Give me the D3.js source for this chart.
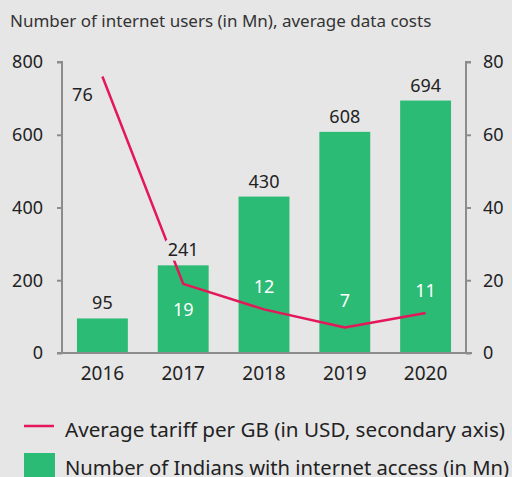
<!DOCTYPE html>
<html><head><meta charset="utf-8">
<script src="https://cdn.jsdelivr.net/npm/d3@7"></script>
<style>
html,body{margin:0;padding:0;background:#e6e6e6;}
svg{display:block;font-family:"Noto Sans",sans-serif;}
</style></head>
<body><svg id="c" width="512" height="477"></svg>
<script>
const years = ["2016","2017","2018","2019","2020"];
const users = [95, 241, 430, 608, 694];
const tariff = [76, 19, 12, 7, 11];
const leftTicks = [0, 200, 400, 600, 800];
const rightTicks = [0, 20, 40, 60, 80];
const title = "Number of internet users (in Mn), average data costs";
const legendLine = "Average tariff per GB (in USD, secondary axis)";
const legendBar = "Number of Indians with internet access (in Mn)";

const bg = "#e6e6e6", green = "#2bbb74", red = "#e4175a", axisCol = "#8c8c8c", txt = "#222";
const svg = d3.select("#c");
svg.append("rect").attr("width",512).attr("height",477).attr("fill",bg);

const L = 62, R = 466, T = 62, B = 353;
const x = d3.scaleBand().domain(years).range([L, R]).paddingInner(0.37).paddingOuter(0.185);
const y1 = d3.scaleLinear().domain([0, 800]).range([B, T]);
const y2 = d3.scaleLinear().domain([0, 80]).range([B, T]);

svg.append("text").attr("x",10).attr("y",27).attr("font-size",17).attr("fill","#333").text(title);

// axes
const gl = svg.append("g").attr("transform",`translate(${L},0)`)
  .call(d3.axisLeft(y1).tickValues(leftTicks).tickSize(5).tickPadding(14));
const gr = svg.append("g").attr("transform",`translate(${R},0)`)
  .call(d3.axisRight(y2).tickValues(rightTicks).tickSize(5).tickPadding(12));
[gl, gr].forEach(g => {
  g.select(".domain").attr("stroke",axisCol).attr("stroke-width",2);
  g.selectAll(".tick line").attr("stroke",axisCol).attr("stroke-width",2);
  g.selectAll(".tick text").attr("font-size",18).attr("fill",txt).attr("font-family","Noto Sans");
});
gl.select(".domain").attr("d",`M-5,${T}H0V${B}`);
gr.select(".domain").attr("d",`M5,${T}H0V${B}`);

// bars
svg.append("g").selectAll("rect").data(years).join("rect")
  .attr("x", d => x(d)).attr("width", x.bandwidth())
  .attr("y", (d,i) => y1(users[i])).attr("height", (d,i) => B - y1(users[i]))
  .attr("fill", green);

// baseline
svg.append("line").attr("x1",L-5).attr("x2",R+6).attr("y1",B).attr("y2",B)
  .attr("stroke",axisCol).attr("stroke-width",2);

// x labels
const gx = svg.append("g").attr("transform",`translate(0,${B})`)
  .call(d3.axisBottom(x).tickSize(0).tickPadding(14));
gx.select(".domain").remove();
gx.selectAll(".tick text").attr("font-size",19).attr("fill",txt).attr("font-family","Noto Sans");

// line
const line = d3.line().x((d,i) => x(years[i]) + x.bandwidth()/2).y(d => y2(d));
svg.append("path").datum(tariff).attr("d", line).attr("fill","none")
  .attr("stroke", red).attr("stroke-width", 2.5).attr("stroke-linejoin","round");

// bar value labels (with halo to cut the line)
svg.append("g").selectAll("text").data(years).join("text")
  .attr("x", d => x(d) + x.bandwidth()/2)
  .attr("y", (d,i) => y1(users[i]) - 9)
  .attr("text-anchor","middle").attr("font-size",18).attr("fill",txt)
  .attr("stroke",bg).attr("stroke-width",9).attr("paint-order","stroke")
  .text((d,i) => users[i]);

// tariff labels
const offs = [{dx:-20,dy:24},{dx:0,dy:32},{dx:0,dy:-16},{dx:0,dy:-21},{dx:0,dy:-16}];
svg.append("g").selectAll("text").data(tariff).join("text")
  .attr("x", (d,i) => x(years[i]) + x.bandwidth()/2 + offs[i].dx)
  .attr("y", (d,i) => y2(d) + offs[i].dy)
  .attr("text-anchor","middle").attr("font-size",18)
  .attr("fill", (d,i) => i === 0 ? txt : "#fff")
  .text(d => d);

// legend
svg.append("line").attr("x1",24).attr("x2",54).attr("y1",426).attr("y2",426)
  .attr("stroke",red).attr("stroke-width",2.5);
svg.append("text").attr("x",65).attr("y",437).attr("font-size",20)
  .attr("textLength",440).attr("lengthAdjust","spacingAndGlyphs").attr("fill",txt).text(legendLine);
svg.append("rect").attr("x",24).attr("y",453).attr("width",31).attr("height",30).attr("fill",green);
svg.append("text").attr("x",65).attr("y",475).attr("font-size",20)
  .attr("textLength",444).attr("lengthAdjust","spacingAndGlyphs").attr("fill",txt).text(legendBar);
</script></body></html>
